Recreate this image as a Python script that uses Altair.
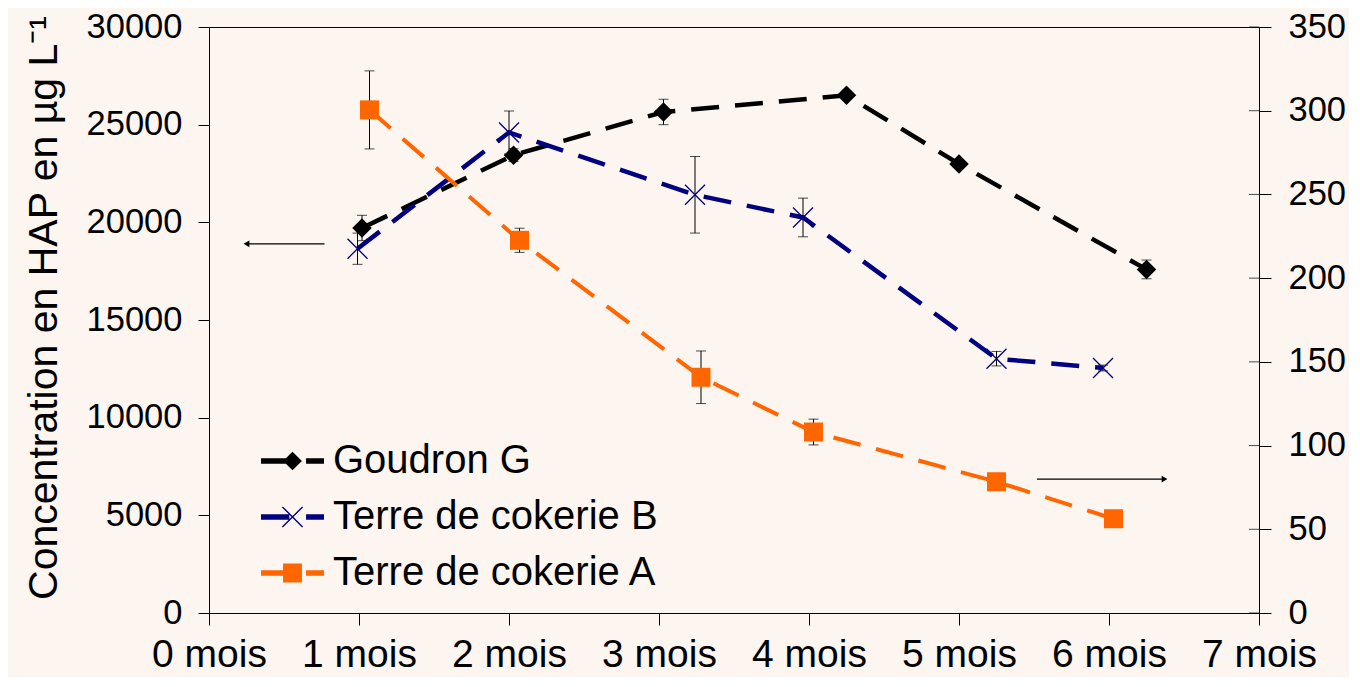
import altair as alt
import pandas as pd

# ---------------- data ----------------
month_ticks = [0, 1, 2, 3, 4, 5, 6, 7]
month_labels = ["0 mois", "1 mois", "2 mois", "3 mois", "4 mois", "5 mois", "6 mois", "7 mois"]
left_ticks = [0, 5000, 10000, 15000, 20000, 25000, 30000]
right_ticks = [0, 50, 100, 150, 200, 250, 300, 350]

series_names = ["Goudron G", "Terre de cokerie B", "Terre de cokerie A"]
series_colors = ["#000000", "#000080", "#FF6600"]

# Goudron G (left axis)
g_time = [1.02, 2.03, 3.03, 4.25, 5.00, 6.25]
g_val = [19710, 23440, 25650, 26500, 22990, 17590]
g_err = [650, 330, 650, 150, 100, 480]

# Terre de cokerie B (left axis)
b_time = [0.99, 2.00, 3.24, 3.96, 5.25, 5.96]
b_val = [18650, 24600, 21410, 20250, 13020, 12540]
b_err = [800, 1100, 1960, 990, 370, 150]

# Terre de cokerie A (right axis)
a_time = [1.07, 2.07, 3.28, 4.03, 5.25, 6.03]
a_val = [300.5, 222.6, 140.8, 108.1, 78.4, 56.3]
a_err = [23.3, 7.2, 15.7, 7.7, 2.0, 2.0]

y_title = "Concentration en HAP en µg L⁻¹"

# annotation arrows (axis pointers)
arrow_left_t = [0.25, 0.77]
arrow_left_v = 18900
arrow_right_t = [5.52, 6.37]
arrow_right_v = 80

FONT = "Liberation Sans"


def frame(t, v, e):
    return pd.DataFrame({
        "t": t, "v": v,
        "lo": [a - b for a, b in zip(v, e)],
        "hi": [a + b for a, b in zip(v, e)],
    })


df_g = frame(g_time, g_val, g_err)
df_b = frame(b_time, b_val, b_err)
df_a = frame(a_time, a_val, a_err)

label_expr = "[" + ",".join("'%s'" % s for s in month_labels) + "][datum.value]"

xs = alt.Scale(domain=[0, 7], nice=False, zero=False)
x_axis = alt.Axis(values=month_ticks, labelExpr=label_expr, title=None, grid=False,
                  tickSize=12, labelPadding=41, labelBaseline="alphabetic",
                  labelFontSize=39, labelFont=FONT, labelColor="black",
                  domainColor="black", tickColor="black", labelAngle=0,
                  labelFlush=False, labelOverlap=False, labelBound=False)

yl_scale = alt.Scale(domain=[0, 30000], nice=False, zero=True)
yl_axis = alt.Axis(values=left_ticks, format="d", title=y_title, orient="left", grid=False,
                   tickSize=11, labelPadding=16, labelFontSize=34.5, labelFont=FONT,
                   labelColor="black", domainColor="black", tickColor="black",
                   titleFont=FONT, titleFontSize=41, titleFontWeight="normal", titleColor="black",
                   titleX=-153, titleY=280.5, titleAngle=270, titleAlign="center",
                   titleBaseline="alphabetic", labelOverlap=False, labelFlush=False)

yr_scale = alt.Scale(domain=[0, 350], nice=False, zero=True)
yr_axis = alt.Axis(values=right_ticks, format="d", title=None, orient="right", grid=False,
                   tickSize=12, labelPadding=17, labelFontSize=34.5, labelFont=FONT,
                   labelColor="black", domainColor="black", tickColor="black",
                   labelOverlap=False, labelFlush=False)


def X(field):
    return alt.X(field, type="quantitative", scale=xs, axis=x_axis)


def series_layers(df, color, shape, size, filled, stroke_w, line_w, ys, yax):
    def Y(field):
        return alt.Y(field, type="quantitative", scale=ys, axis=yax)

    base = alt.Chart(df)
    line = base.mark_line(color=color, strokeWidth=line_w, strokeDash=[28, 16],
                          strokeCap="butt").encode(x=X("t"), y=Y("v"))
    err = base.mark_rule(color="black", strokeWidth=1).encode(x=X("t"), y=Y("lo"), y2=alt.Y2("hi"))
    cap_lo = base.mark_tick(color="black", orient="horizontal", size=10, thickness=1).encode(x=X("t"), y=Y("lo"))
    cap_hi = base.mark_tick(color="black", orient="horizontal", size=10, thickness=1).encode(x=X("t"), y=Y("hi"))
    if filled:
        pts = base.mark_point(shape=shape, size=size, filled=True, color=color, opacity=1,
                              strokeWidth=0).encode(x=X("t"), y=Y("v"))
    else:
        pts = base.mark_point(shape=shape, size=size, filled=False, color=color, opacity=1,
                              strokeWidth=stroke_w).encode(x=X("t"), y=Y("v"))
    return [line, err, cap_lo, cap_hi, pts]


g_layers = series_layers(df_g, series_colors[0], "diamond", 380, True, 0, 4.5, yl_scale, yl_axis)
b_layers = series_layers(df_b, series_colors[1], "M-1,-1L1,1M-1,1L1,-1", 400, False, 1.3, 4.5, yl_scale, yl_axis)
a_layers = series_layers(df_a, series_colors[2], "square", 361, True, 0, 4, yr_scale, yr_axis)

# arrows
al_df = pd.DataFrame({"t1": [arrow_left_t[0]], "t2": [arrow_left_t[1]], "v": [arrow_left_v]})
ar_df = pd.DataFrame({"t1": [arrow_right_t[0]], "t2": [arrow_right_t[1]], "v": [arrow_right_v]})

arrow_l = alt.Chart(al_df).mark_rule(color="black", strokeWidth=1.2).encode(
    x=X("t1"), x2=alt.X2("t2"), y=alt.Y("v:Q", scale=yl_scale, axis=yl_axis))
head_l = alt.Chart(al_df).mark_point(shape="triangle-left", size=45, filled=True, color="black",
                                     opacity=1, strokeWidth=0).encode(
    x=X("t1"), y=alt.Y("v:Q", scale=yl_scale, axis=yl_axis))
arrow_r = alt.Chart(ar_df).mark_rule(color="black", strokeWidth=1.2).encode(
    x=X("t1"), x2=alt.X2("t2"), y=alt.Y("v:Q", scale=yr_scale, axis=yr_axis))
head_r = alt.Chart(ar_df).mark_point(shape="triangle-right", size=45, filled=True, color="black",
                                     opacity=1, strokeWidth=0).encode(
    x=X("t2"), y=alt.Y("v:Q", scale=yr_scale, axis=yr_axis))

# inner half of the right axis ticks (they cross the axis line)
inner_ticks = alt.Chart(pd.DataFrame({"v": right_ticks})).mark_tick(
    color="black", orient="horizontal", size=10, thickness=1, xOffset=-5).encode(
    x=alt.X(datum=7, type="quantitative", scale=xs, axis=x_axis),
    y=alt.Y("v:Q", scale=yr_scale, axis=yr_axis))

# legend (symbol = line + marker + dash)
legend_paths = [
    "M-1,-0.084H-0.2V0.084H-1Z M0,-0.29L0.3,0L0,0.29L-0.3,0Z M0.43,-0.084H1V0.084H0.43Z",
    "M-1,-0.084H-0.1V0.084H-1Z M0.43,-0.084H1V0.084H0.43Z "
    "M-0.3044,-0.3356L0.3356,0.3044L0.3044,0.3356L-0.3356,-0.3044Z "
    "M-0.3356,0.3044L0.3044,-0.3356L0.3356,-0.3044L-0.3044,0.3356Z",
    "M-1,-0.084H-0.25V0.084H-1Z M-0.3,-0.3H0.3V0.3H-0.3Z M0.43,-0.084H1V0.084H0.43Z",
]
leg = alt.Legend(orient="none", legendX=52, legendY=402.5, title=None, symbolSize=3969,
                 symbolStrokeWidth=0, labelFontSize=40, labelFont=FONT, labelColor="black",
                 labelOffset=9, rowPadding=4, padding=0, labelLimit=600)
legend_layer = alt.Chart(pd.DataFrame({"series": series_names})).transform_filter("false").mark_point(
    filled=True, opacity=1).encode(
    color=alt.Color("series:N", scale=alt.Scale(domain=series_names, range=series_colors), legend=leg),
    shape=alt.Shape("series:N", scale=alt.Scale(domain=series_names, range=legend_paths), legend=leg),
)

left = alt.layer(*g_layers, *b_layers, arrow_l, head_l, legend_layer)
right = alt.layer(*a_layers, arrow_r, head_r, inner_ticks)

chart = alt.layer(left, right).resolve_scale(y="independent").properties(
    width=1050, height=586,
    padding={"left": 201, "top": 19, "right": 90, "bottom": 64},
    autosize=alt.AutoSizeParams(type="none"),
    background="#FDF5F0",
).configure_view(stroke="black", strokeWidth=1, fill="white")

chart.save("out.html", embed_options={"renderer": "svg", "actions": False})
